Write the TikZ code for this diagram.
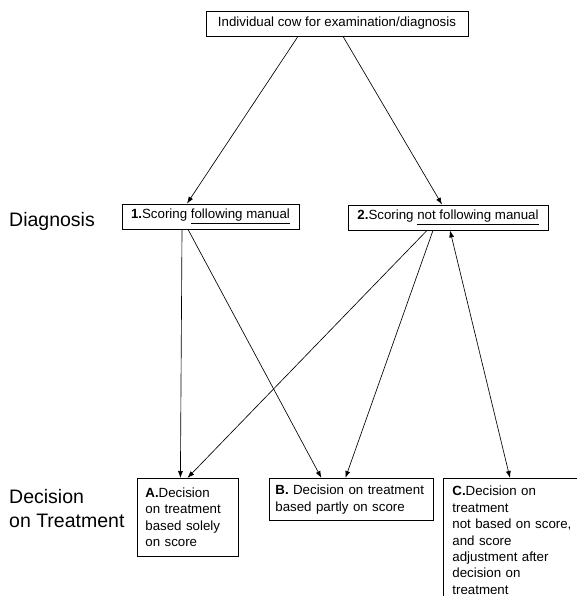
\documentclass[tikz,border=0pt]{standalone}
\usepackage{fontspec}
\setmainfont{Liberation Sans}
\usetikzlibrary{arrows.meta}
\begin{document}
\begin{tikzpicture}[x=1pt,y=-1pt,
  box/.style={draw, line width=0.8pt, inner sep=0pt, minimum height=25pt, font=\fontsize{13.3}{16.4}\selectfont},
  dbox/.style={draw, line width=0.8pt, inner xsep=8pt, inner ysep=0pt, align=left, anchor=north west, font=\fontsize{13.3}{16.4}\selectfont},
  lab/.style={inner sep=0pt, font=\fontsize{19.5}{24}\selectfont, align=left, anchor=base west},
  conn/.style={line width=0.65pt, -{Latex[length=7pt,width=5pt]}},
  dconn/.style={line width=0.65pt, {Latex[length=7pt,width=5pt]}-{Latex[length=7pt,width=5pt]}},
]
\useasboundingbox (0,0) rectangle (577,596);
\clip (0,0) rectangle (577,596);

\node[box, minimum width=262pt] (top) at (337,23.5) {Individual cow for examination/diagnosis};
\node[box, minimum width=177pt] (b1) at (210.5,216.5) {\textbf{1.}Scoring \underline{following manual}};
\node[box, minimum width=200pt] (b2) at (448,217.5) {\textbf{2.}Scoring \underline{not following manual}};

\node[dbox, text width=85pt, minimum height=78pt] (A) at (137,478) {\textbf{A.}Decision\\on treatment\\based solely\\on score};
\node[dbox, inner xsep=6pt, text width=152pt, minimum height=42pt] (B) at (269,478) {\textbf{B.} Decision on treatment\\based partly on score};
\node[dbox, inner xsep=9pt, text width=135pt, minimum height=124pt] (C) at (443,478) {\textbf{C.}Decision on\\treatment\\not based on score,\\and score\\adjustment after\\decision on\\treatment};

\node[lab] (diag) at (9,226) {Diagnosis};
\node[lab] (dec) at (9,527) {Decision\\on Treatment};

\draw[conn] ([xshift=-39pt]top.south) -- ([xshift=-23.5pt]b1.north);
\draw[conn] ([xshift=6pt]top.south) -- ([xshift=-6pt]b2.north);
\draw[conn] ([xshift=-28.5pt]b1.south) -- ([xshift=-7.5pt]A.north);
\draw[conn] ([xshift=-21pt]b2.south) -- ([xshift=-0.5pt]A.north);
\draw[conn] ([xshift=-22.5pt]b1.south) -- ([xshift=-30pt]B.north);
\draw[conn] ([xshift=-15pt]b2.south) -- ([xshift=-6pt]B.north);
\draw[dconn] ([xshift=2pt]b2.south) -- ([xshift=67pt]C.north west);
\end{tikzpicture}
\end{document}
